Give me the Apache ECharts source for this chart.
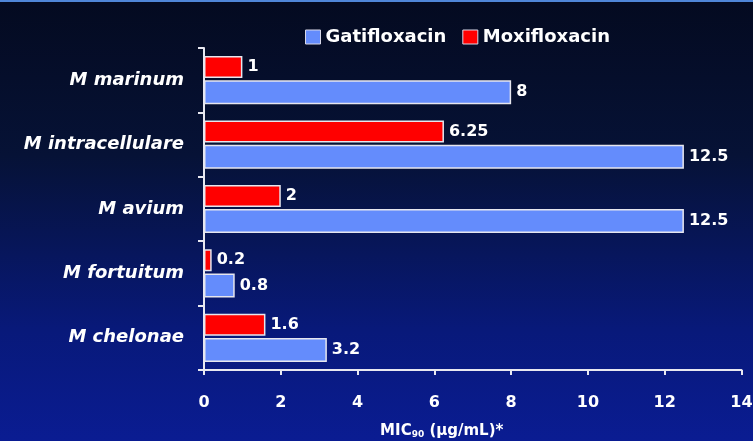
<!DOCTYPE html>
<html>
<head>
<meta charset="utf-8">
<script src="https://cdn.jsdelivr.net/npm/echarts@6/dist/echarts.min.js"></script>
<style>
  html, body { margin: 0; padding: 0; }
  body {
    width: 753px; height: 441px; overflow: hidden;
    background: linear-gradient(to bottom, #040a20 0%, #061236 35%, #08197a 75%, #0a1c92 100%);
  }
  #chart { width: 753px; height: 441px; }
</style>
</head>
<body>
<div id="chart"></div>
<script>
// Organisms, listed top to bottom
const organisms = ['M marinum', 'M intracellulare', 'M avium', 'M fortuitum', 'M chelonae'];
// MIC90 values in µg/mL
const gatifloxacin = [8, 12.5, 12.5, 0.8, 3.2];
const moxifloxacin = [1, 6.25, 2, 0.2, 1.6];
// X axis ticks
const xTicks = [0, 2, 4, 6, 8, 10, 12, 14];

const FONT = 'DejaVu Sans, Verdana, sans-serif';
const labelFont = { color: '#ffffff', fontFamily: FONT, fontWeight: 'bold', fontSize: 16 };

const chart = echarts.init(document.getElementById('chart'), null, { renderer: 'canvas' });
chart.setOption({
  backgroundColor: 'transparent',
  animation: false,
  graphic: [{
    type: 'rect', left: 0, top: 0,
    shape: { width: 753, height: 2 },
    style: { fill: '#4f86d8' }
  }],
  legend: {
    data: ['Gatifloxacin', 'Moxifloxacin'],
    left: 300, top: 23,
    itemWidth: 15, itemHeight: 14, itemGap: 16,
    icon: 'rect',
    textStyle: Object.assign({}, labelFont, { fontSize: 18 }),
    itemStyle: { borderColor: '#d8d8e8', borderWidth: 1 }
  },
  grid: { left: 204, right: 11.5, top: 48, bottom: 71, containLabel: false, outerBoundsMode: 'none' },
  xAxis: {
    type: 'value',
    min: xTicks[0], max: xTicks[xTicks.length - 1], interval: 2,
    splitLine: { show: false },
    axisLine: { show: true, lineStyle: { color: '#e8e8f0', width: 2 } },
    axisTick: { show: true, length: 5, inside: false, lineStyle: { color: '#e8e8f0', width: 2 } },
    axisLabel: Object.assign({}, labelFont, { margin: 25 }),
    name: '{m|MIC}{s|90}{m| (µg/mL)*}',
    nameLocation: 'middle',
    nameGap: 53,
    nameTextStyle: {
      padding: [0, 62, 0, 0],
      rich: {
        m: { color: '#ffffff', fontFamily: FONT, fontWeight: 'bold', fontSize: 15 },
        s: { color: '#ffffff', fontFamily: FONT, fontWeight: 'bold', fontSize: 9, verticalAlign: 'bottom', padding: [7, 0, 0, 0] }
      }
    }
  },
  yAxis: {
    type: 'category',
    data: organisms,
    inverse: true,
    axisLine: { show: true, lineStyle: { color: '#e8e8f0', width: 2 } },
    axisTick: { show: true, length: 6, lineStyle: { color: '#e8e8f0', width: 2 } },
    axisLabel: Object.assign({}, labelFont, { fontStyle: 'italic', fontSize: 18, margin: 20 })
  },
  series: [
    {
      name: 'Moxifloxacin', type: 'bar', data: moxifloxacin,
      barWidth: 22, barGap: '10%', barCategoryGap: '22%',
      itemStyle: { color: '#ff0000', borderColor: '#e6e6ee', borderWidth: 1.5 },
      label: Object.assign({ show: true, position: 'right', distance: 5 }, labelFont)
    },
    {
      name: 'Gatifloxacin', type: 'bar', data: gatifloxacin,
      barWidth: 24, barGap: '10%', barCategoryGap: '22%',
      itemStyle: { color: '#648cfc', borderColor: '#e6e6ee', borderWidth: 1.5 },
      label: Object.assign({ show: true, position: 'right', distance: 5 }, labelFont)
    }
  ]
});
</script>
</body>
</html>
